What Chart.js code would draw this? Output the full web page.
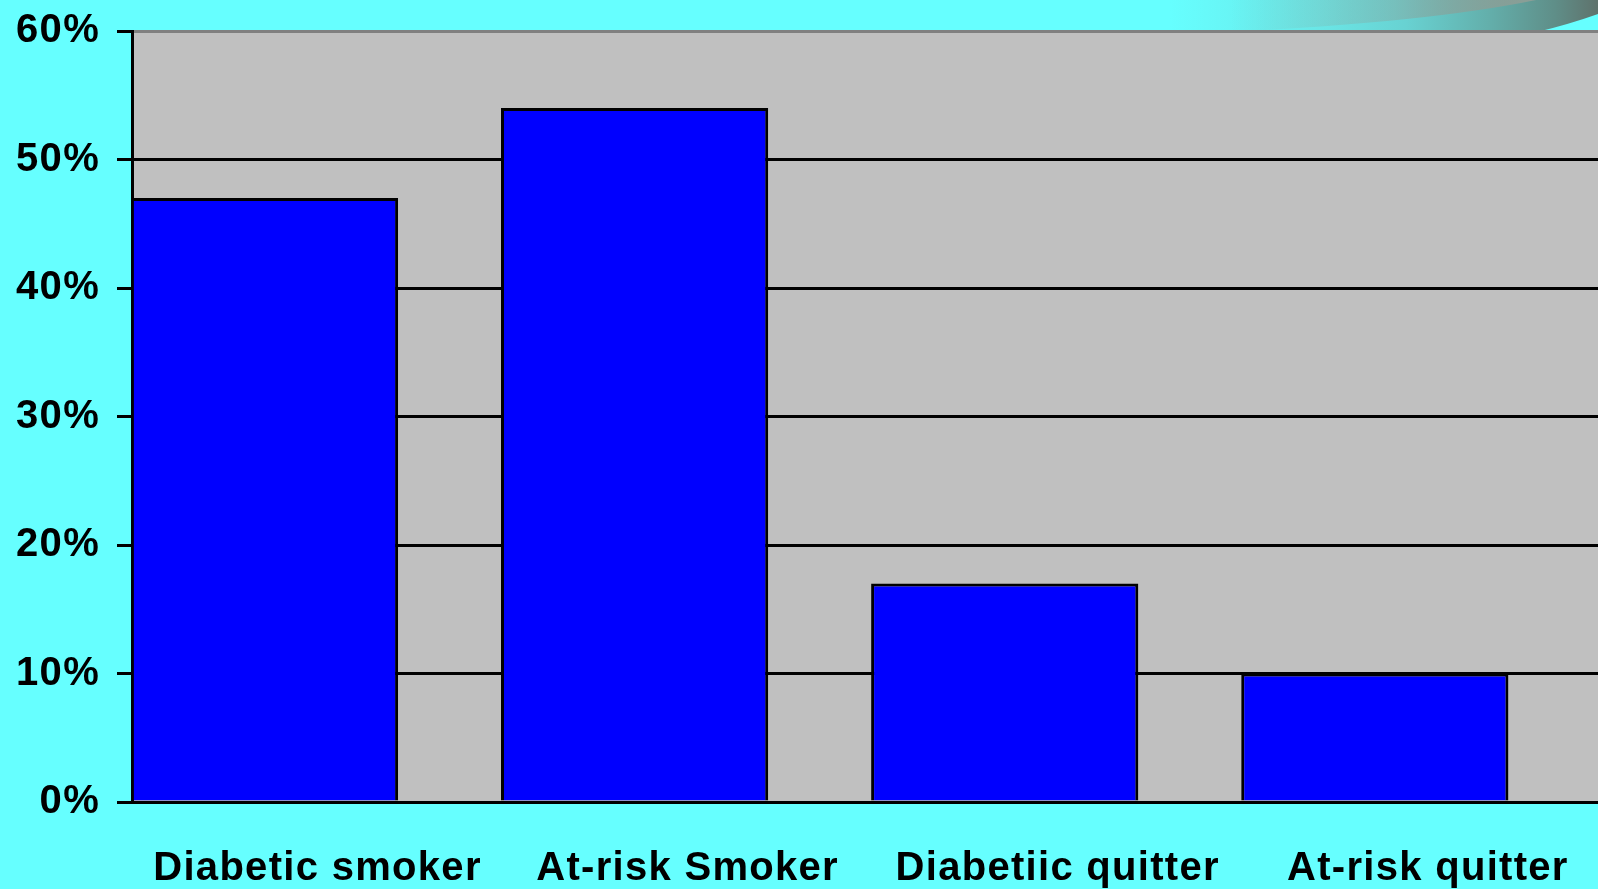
<!DOCTYPE html>
<html><head><meta charset="utf-8">
<script src="https://cdn.jsdelivr.net/npm/chart.js@4"></script>
<style>
html,body{margin:0;padding:0;background:#66FFFF;overflow:hidden}
#c{display:block}
</style>
</head><body>
<canvas id="c" width="1598" height="889"></canvas>
<script>
// ---- data ----
const categories = ['Diabetic smoker', 'At-risk Smoker', 'Diabetiic quitter', 'At-risk quitter'];
const categoryPositions = [0, 1, 2, 3];
const percentValues = [47, 54, 17, 10];
const yTickValues = [0, 10, 20, 30, 40, 50, 60];
const yTickLabels = ['0%', '10%', '20%', '30%', '40%', '50%', '60%'];

const FONT = "'Liberation Sans', Arial, Helvetica, sans-serif";
const SPACING = '1.3px';

const decor = {
  id: 'decor',
  beforeLayout(chart) { chart.ctx.letterSpacing = SPACING; },
  beforeDraw(chart) {
    const { ctx, chartArea: a, width, height } = chart;
    ctx.save();
    ctx.fillStyle = '#66FFFF';
    ctx.fillRect(0, 0, width, height);
    // decorative swoosh (template ornament, top right)
    let g = ctx.createLinearGradient(1170, 0, 1598, 0);
    g.addColorStop(0, '#66FFFF');
    g.addColorStop(0.35, '#6ae6e6');
    g.addColorStop(0.55, '#68d2d2');
    g.addColorStop(0.75, '#63aeaa');
    g.addColorStop(0.9, '#5f8e88');
    g.addColorStop(1, '#5f726c');
    ctx.fillStyle = g;
    ctx.beginPath();
    ctx.moveTo(1170, 0);
    ctx.lineTo(1598, 0);
    ctx.lineTo(1598, 14);
    ctx.quadraticCurveTo(1570, 24, 1537, 32);
    ctx.lineTo(1170, 32);
    ctx.closePath();
    ctx.fill();
    g = ctx.createLinearGradient(1230, 0, 1540, 0);
    g.addColorStop(0, 'rgba(140,158,150,0)');
    g.addColorStop(0.5, 'rgba(140,158,150,0.35)');
    g.addColorStop(1, 'rgba(140,158,150,1)');
    ctx.fillStyle = g;
    ctx.beginPath();
    ctx.moveTo(1230, 32);
    ctx.quadraticCurveTo(1430, 22, 1536, 0);
    ctx.lineTo(1230, 0);
    ctx.closePath();
    ctx.fill();
    // plot area
    ctx.fillStyle = '#C0C0C0';
    ctx.fillRect(a.left, a.top, a.right - a.left, a.bottom - a.top);
    ctx.restore();
    ctx.letterSpacing = SPACING;
  }
};

new Chart(document.getElementById('c'), {
  type: 'bar',
  data: {
    datasets: [{
      data: percentValues.map((v, i) => ({ x: categoryPositions[i], y: v })),
      backgroundColor: '#0000FF',
      borderColor: '#000000',
      borderWidth: 3,
      borderSkipped: 'start',
      barPercentage: 0.722,
      categoryPercentage: 1
    }]
  },
  options: {
    responsive: false,
    animation: false,
    devicePixelRatio: 1,
    layout: { padding: { top: 31, left: 0, right: 0, bottom: 0 } },
    plugins: { legend: { display: false }, tooltip: { enabled: false } },
    scales: {
      x: {
        type: 'linear',
        offset: false,
        min: -0.358,
        max: 3.603,
        afterBuildTicks: s => { s.ticks = categoryPositions.map(v => ({ value: v })); },
        afterFit: s => { s.height = 87; s.paddingLeft = 0; s.paddingRight = 0; },
        grid: { display: false },
        border: { display: false },
        ticks: {
          callback: v => categories[categoryPositions.indexOf(v)],
          autoSkip: false, maxRotation: 0, minRotation: 0,
          padding: 35, labelOffset: 53,
          color: '#000000',
          font: { family: FONT, size: 40, weight: 'bold' }
        }
      },
      y: {
        min: 0, max: 60,
        afterBuildTicks: s => { s.ticks = yTickValues.map(v => ({ value: v })); },
        afterFit: s => { s.width = 132; s.paddingTop = 0; s.paddingBottom = 0; },
        ticks: {
          callback: v => yTickLabels[yTickValues.indexOf(v)],
          padding: 17,
          color: '#000000',
          font: { family: FONT, size: 40, weight: 'bold' }
        },
        grid: {
          color: c => (c.tick && c.tick.value === 60) ? '#808080' : '#000000',
          lineWidth: 3,
          tickLength: 15,
          tickColor: '#000000',
          tickWidth: 3
        },
        border: { color: '#000000', width: 3 }
      }
    }
  },
  plugins: [decor]
});
</script>
</body></html>
